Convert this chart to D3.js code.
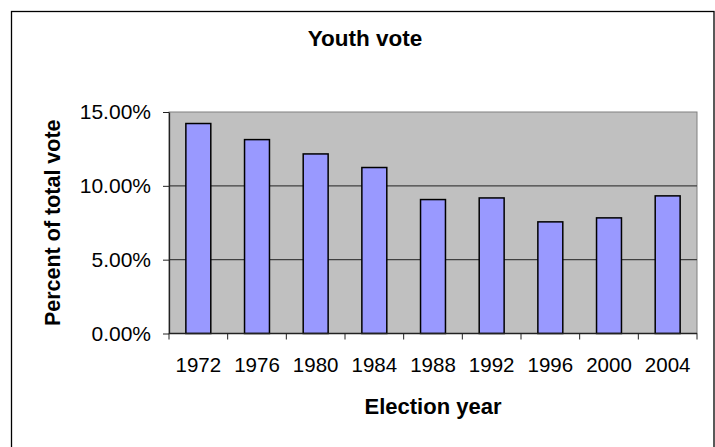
<!DOCTYPE html>
<html>
<head>
<meta charset="utf-8">
<script src="https://cdn.jsdelivr.net/npm/d3@7"></script>
<style>
  body { margin: 0; background: #fff; }
  text { font-family: Arial, "Liberation Sans", sans-serif; fill: #000; }
</style>
</head>
<body>
<svg width="715" height="447"></svg>
<script>
// election years and youth share of the total vote (in percent)
var years = ["1972", "1976", "1980", "1984", "1988", "1992", "1996", "2000", "2004"];
var shares = [14.22, 13.13, 12.16, 11.24, 9.07, 9.18, 7.56, 7.83, 9.32];
var yTicks = [0, 5, 10, 15];

var data = years.map(function(y, i) { return { year: y, value: shares[i] }; });

var svg = d3.select('svg');

// outer chart frame (bottom edge runs off the picture)
svg.append('rect')
    .attr('x', 11.5).attr('y', 11.5)
    .attr('width', 702.5).attr('height', 450)
    .style('fill', '#fff')
    .style('stroke', '#000')
    .style('stroke-width', 1.3);

var plot = { left: 169, right: 697, top: 112, bottom: 333.5 };

var x = d3.scaleBand()
    .domain(years)
    .range([plot.left, plot.right])
    .paddingInner(0.575)
    .paddingOuter(0.2875);

var y = d3.scaleLinear()
    .domain([0, 15])
    .range([plot.bottom, plot.top]);

// grey plot area
svg.append('rect')
    .attr('x', plot.left).attr('y', plot.top)
    .attr('width', plot.right - plot.left)
    .attr('height', plot.bottom - plot.top)
    .style('fill', '#c0c0c0')
    .style('stroke', '#808080')
    .style('stroke-width', 1);

// horizontal gridlines
svg.selectAll('.grid')
    .data(yTicks.filter(function(t) { return t > 0 && t < 15; }))
    .enter().append('line')
    .attr('class', 'grid')
    .attr('x1', plot.left).attr('x2', plot.right)
    .attr('y1', function(d) { return y(d); })
    .attr('y2', function(d) { return y(d); })
    .style('stroke', '#404040')
    .style('stroke-width', 1.2);

// bars
svg.selectAll('.bar')
    .data(data)
    .enter().append('rect')
    .attr('class', 'bar')
    .attr('x', function(d) { return x(d.year); })
    .attr('y', function(d) { return y(d.value); })
    .attr('width', x.bandwidth())
    .attr('height', function(d) { return y(0) - y(d.value); })
    .style('fill', '#9999ff')
    .style('stroke', '#000')
    .style('stroke-width', 1.5);

// y axis
var yAxis = svg.append('g')
    .attr('transform', 'translate(' + plot.left + ',0)')
    .call(d3.axisLeft(y).tickValues(yTicks)
        .tickFormat(function(d) { return d3.format('.2f')(d) + '%'; })
        .tickSize(6).tickSizeOuter(0).tickPadding(12));
yAxis.select('.domain').style('stroke', '#222').style('stroke-width', 1.3);
yAxis.selectAll('.tick line').style('stroke', '#222');
yAxis.selectAll('.tick text')
    .style('font-size', '21px')
    .style('font-family', 'Arial, "Liberation Sans", sans-serif');

// x axis: ticks sit on the band edges
var xAxisG = svg.append('g')
    .attr('transform', 'translate(0,' + plot.bottom + ')');
xAxisG.append('line')
    .attr('x1', plot.left).attr('x2', plot.right)
    .style('stroke', '#222').style('stroke-width', 1.3);
var edges = years.map(function(d) { return x(d) - x.step() * x.paddingInner() / 2; })
    .concat([plot.right]);
xAxisG.selectAll('.xtick')
    .data(edges)
    .enter().append('line')
    .attr('class', 'xtick')
    .attr('x1', function(d) { return d; })
    .attr('x2', function(d) { return d; })
    .attr('y1', 0).attr('y2', 6)
    .style('stroke', '#222');
xAxisG.selectAll('.xlabel')
    .data(years)
    .enter().append('text')
    .attr('class', 'xlabel')
    .attr('x', function(d) { return x(d) + x.bandwidth() / 2; })
    .attr('y', 38)
    .style('text-anchor', 'middle')
    .style('font-size', '20.5px')
    .text(function(d) { return d; });

// titles
svg.append('text')
    .attr('x', 365).attr('y', 46)
    .style('text-anchor', 'middle')
    .style('font-size', '22.5px')
    .style('font-weight', 'bold')
    .text('Youth vote');

svg.append('text')
    .attr('x', (plot.left + plot.right) / 2).attr('y', 414)
    .style('text-anchor', 'middle')
    .style('font-size', '22px')
    .style('font-weight', 'bold')
    .text('Election year');

svg.append('text')
    .attr('transform', 'translate(60,' + (plot.top + plot.bottom) / 2 + ') rotate(-90)')
    .style('text-anchor', 'middle')
    .style('font-size', '21.5px')
    .style('font-weight', 'bold')
    .text('Percent of total vote');
</script>
</body>
</html>
